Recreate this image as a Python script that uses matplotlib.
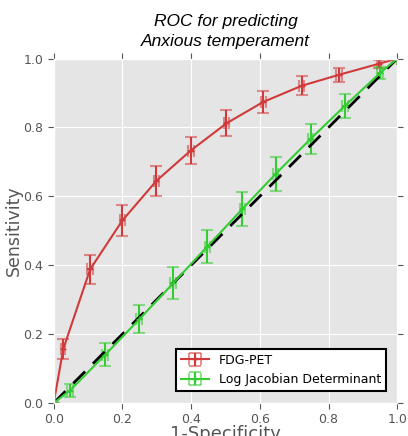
import matplotlib
matplotlib.use("Agg")
import matplotlib.pyplot as plt
import numpy as np

plt.style.use("ggplot")
plt.rcParams["font.family"] = ["DejaVu Sans"]

# ROC points (1-specificity, sensitivity) with error
fdg_fpr = [0.0, 0.028, 0.106, 0.2, 0.299, 0.399, 0.503, 0.61, 0.722, 0.831, 0.947, 1.0]
fdg_tpr = [0.0, 0.157, 0.388, 0.53, 0.645, 0.733, 0.812, 0.874, 0.921, 0.953, 0.985, 1.0]
fdg_yerr = [0.0, 0.028, 0.043, 0.046, 0.044, 0.039, 0.038, 0.033, 0.028, 0.02, 0.011, 0.0]
fdg_xerr = [0.0, 0.006, 0.008, 0.008, 0.008, 0.008, 0.008, 0.008, 0.008, 0.008, 0.006, 0.0]

ljd_fpr = [0.0, 0.047, 0.15, 0.249, 0.348, 0.447, 0.549, 0.646, 0.748, 0.848, 0.95, 1.0]
ljd_tpr = [0.0, 0.036, 0.14, 0.243, 0.348, 0.454, 0.563, 0.665, 0.767, 0.863, 0.958, 1.0]
ljd_yerr = [0.0, 0.018, 0.034, 0.041, 0.046, 0.048, 0.05, 0.049, 0.044, 0.035, 0.017, 0.0]
ljd_xerr = [0.0, 0.008, 0.008, 0.008, 0.008, 0.008, 0.008, 0.008, 0.008, 0.008, 0.008, 0.0]

red = "#d03a3a"
green = "#33cc33"

fig = plt.figure(figsize=(4.08, 4.36), dpi=100)
ax = fig.add_axes([0.1316, 0.0757, 0.842, 0.79])

for xs, ys, xe, ye, col, lab in [
    (fdg_fpr, fdg_tpr, fdg_xerr, fdg_yerr, red, "FDG-PET"),
    (ljd_fpr, ljd_tpr, ljd_xerr, ljd_yerr, green, "Log Jacobian Determinant"),
]:
    line, caps, bars = ax.errorbar(xs, ys, xerr=xe, yerr=ye, color=col, lw=1.5,
                                   elinewidth=1.5, capsize=4, capthick=1.5,
                                   marker="+", ms=4, label=lab)
    for c in caps:
        c.set_alpha(0.55)

ax.plot([0, 1], [0, 1], "k--", lw=2, dashes=(6, 4))

ax.set_xlim(0, 1)
ax.set_ylim(0, 1)
ax.set_xticks(np.arange(0, 1.01, 0.2))
ax.set_yticks(np.arange(0, 1.01, 0.2))
ax.tick_params(axis="both", which="both", direction="out", top=True, right=True,
               labelsize=9, colors="#555555", length=4)
ax.tick_params(labelcolor="#555555")
ax.set_xlabel("1-Specificity", fontsize=13, color="#555555", labelpad=-1)
ax.set_ylabel("Sensitivity", fontsize=12.5, color="#555555", labelpad=0)
ax.set_title("ROC for predicting\nAnxious temperament", fontsize=12.5,
             family="Liberation Sans", fontstyle="italic", color="black",
             pad=9, linespacing=1.45)

leg = ax.legend(loc="lower right", fontsize=9, fancybox=False, frameon=True,
                framealpha=1, bbox_to_anchor=(0.967, 0.035), borderaxespad=0,
                handlelength=2.2)
leg.get_frame().set_edgecolor("black")
leg.get_frame().set_facecolor("white")
leg.get_frame().set_linewidth(1.5)

fig.savefig("out.png", dpi=100)
